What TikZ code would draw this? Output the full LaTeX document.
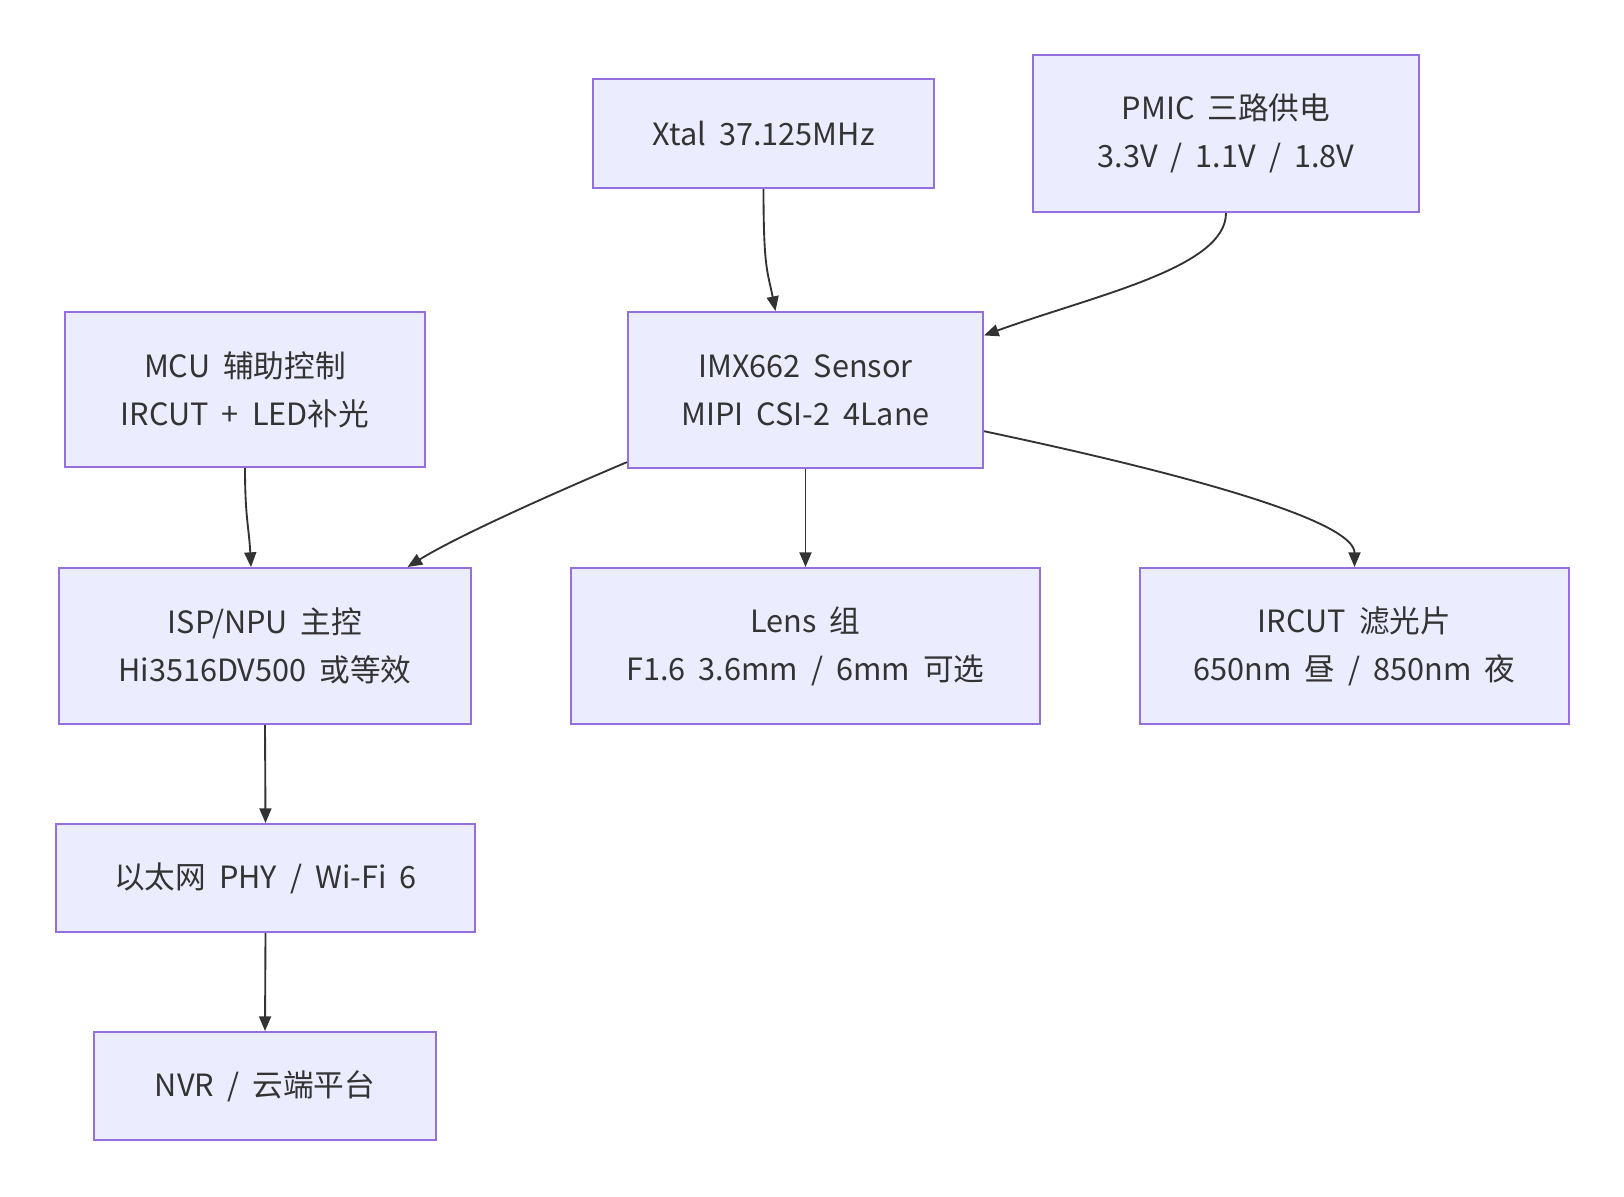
\documentclass[tikz,border=0pt]{standalone}
\usepackage{fontspec}
\setmainfont[WordSpace=1.9]{Noto Sans CJK SC}
\usepackage{xcolor}
\usetikzlibrary{arrows.meta}
\definecolor{boxfill}{HTML}{ECECFF}
\definecolor{boxline}{HTML}{9370DB}
\definecolor{ink}{HTML}{333333}

\begin{document}
\begin{tikzpicture}[x=0.75pt, y=-0.75pt,
          box/.style={rectangle, draw=boxline, fill=boxfill, line width=1.5pt,
                      text=ink, align=center, inner sep=0pt,
                      font=\fontsize{23}{36}\selectfont},
          arr/.style={-{Triangle[length=11pt, width=9pt]}, line width=1.4pt, ink}]
          \useasboundingbox (0,0) rectangle (1624,1196);
          \node[box, minimum width=255.75pt, minimum height=81.75pt] (xtal)  at (763.5,133.5) {Xtal 37.125MHz};
          \node[box, minimum width=289.5pt,  minimum height=117.75pt] (pmic) at (1226,133.5) {PMIC 三路供电\\3.3V / 1.1V / 1.8V};
          \node[box, minimum width=270pt,    minimum height=116.25pt] (mcu)  at (245,389.5) {MCU 辅助控制\\IRCUT + LED补光};
          \node[box, minimum width=266.25pt, minimum height=117pt] (sensor)  at (805.5,390) {IMX662 Sensor\\MIPI CSI-2 4Lane};
          \node[box, minimum width=309pt,    minimum height=117pt] (isp)     at (265,646) {ISP/NPU 主控\\Hi3516DV500 或等效};
          \node[box, minimum width=351.75pt, minimum height=117pt] (lens)    at (805.5,646) {Lens 组\\F1.6 3.6mm / 6mm 可选};
          \node[box, minimum width=321.75pt, minimum height=117pt] (ircut)   at (1354.5,646) {IRCUT 滤光片\\650nm 昼 / 850nm 夜};
          \node[box, minimum width=314.25pt, minimum height=81pt] (eth)      at (265.5,878) {以太网 PHY / Wi-Fi 6};
          \node[box, minimum width=256.5pt,  minimum height=81pt] (nvr)      at (265,1086) {NVR / 云端平台};
          \draw[arr] (xtal.south) .. controls +(0,80) and +(-8,-40) .. ([xshift=-22.5pt]sensor.north);
          \draw[arr] (pmic.south) .. controls +(0,55) and +(110,-40) .. (sensor.17.8);
          \draw[arr] (mcu.south) .. controls +(0,50) and +(-2,-40) .. ([xshift=-10.5pt]isp.north);
          \draw[arr] (sensor.202.5) .. controls +(-90,38) and +(45,-28) .. (isp.29);
          \draw[arr] (sensor.south) -- (lens.north);
          \draw[arr] (sensor.-13.3) .. controls +(260,55) and +(0,-40) .. (ircut.north);
          \draw[arr] (isp.south) -- (eth.north);
          \draw[arr] (eth.south) -- (nvr.north);
        \end{tikzpicture}
\end{document}
